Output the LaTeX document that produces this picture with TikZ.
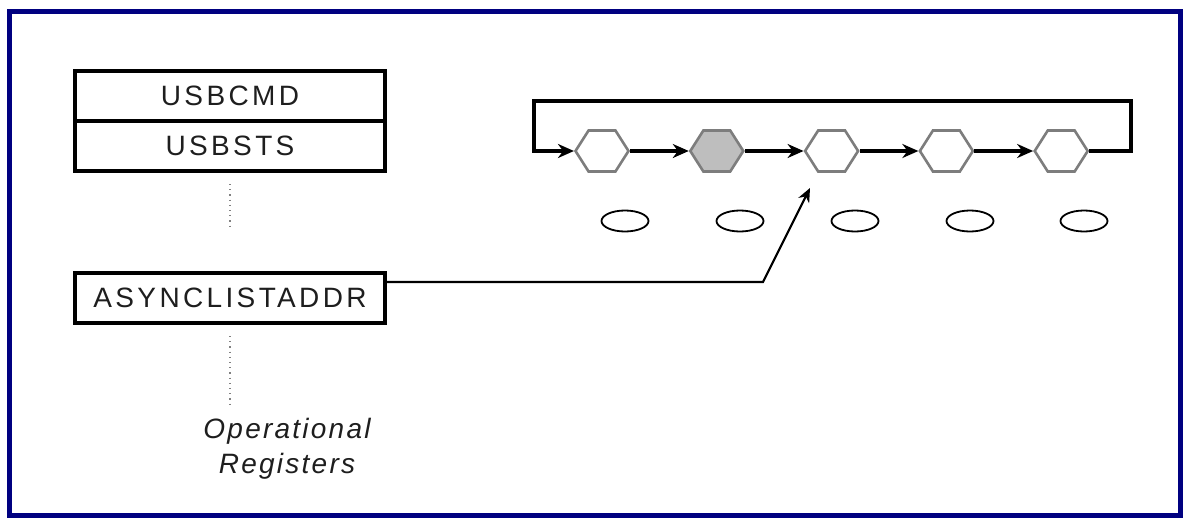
\documentclass[tikz,border=0pt]{standalone}
\usepackage{fontspec}
\setmainfont{Liberation Sans}
\newfontfamily\regfont[LetterSpace=12]{Liberation Sans}
\newfontfamily\labfont[LetterSpace=8]{Liberation Sans}
\usetikzlibrary{positioning,shapes.geometric,shapes.symbols,arrows.meta}
\definecolor{framenavy}{RGB}{0,0,128}
\definecolor{hexgray}{RGB}{190,190,190}
\definecolor{hexline}{RGB}{125,125,125}
\definecolor{textgray}{RGB}{30,30,30}

\begin{document}
\begin{tikzpicture}[x=0.5pt,y=-0.5pt,node distance=57.4pt,>={Stealth[length=8pt,width=7pt]},
    reg/.style={draw,line width=2pt,outer sep=0pt,minimum width=155pt,minimum height=25pt,inner sep=0pt,text=textgray,font=\regfont\fontsize{14pt}{16pt}\selectfont},
    hexa/.style={signal,signal to=east and west,signal pointer angle=115,draw=hexline,line width=1.3pt,fill=white,minimum width=26.5pt,minimum height=20.5pt,inner sep=0pt},
    slot/.style={ellipse,draw,line width=0.9pt,minimum width=23.5pt,minimum height=10.5pt,inner sep=0pt},
    link/.style={->,line width=2pt},
    regdots/.style={dotted,line width=0.6pt,black!50}]
            \useasboundingbox (0,0) rectangle (1184,520);
            \draw[line width=2.5pt,framenavy] (9,11) rectangle (1180,515);

            % operational registers
            \node[reg] (cmd) at (230,96) {USBCMD};
            \node[reg] (sts) [below=0pt of cmd] {USBSTS};
            \node[reg] (async) at (230,298) {ASYNCLISTADDR};
            \node[align=center,text=textgray,font=\labfont\itshape\fontsize{14pt}{17.5pt}\selectfont] (oplab) at (287,449) {Operational\\Registers};

            \draw[regdots,shorten <=6.5pt,shorten >=22.5pt] (sts) -- (async);
            \draw[regdots,shorten <=6.5pt,shorten >=3pt] (async.south) -- (async.south |- oplab.north);

            % asynchronous schedule
            \node[hexa] (h1) at (602,151) {};
            \node[hexa,fill=hexgray] (h2) [right of = h1] {};
            \node[hexa] (h3) [right of = h2] {};
            \node[hexa] (h4) [right of = h3] {};
            \node[hexa] (h5) [right of = h4] {};

            \node[slot] (e1) at (625,221) {};
            \node[slot] (e2) at (740,221) {};
            \node[slot] (e3) at (855,221) {};
            \node[slot] (e4) at (970,221) {};
            \node[slot] (e5) at (1084,221) {};

            \coordinate (loopR) at (1131,101);
            \coordinate (loopL) at (534,101);
            \coordinate (bend) at (763,282);
            \coordinate (aim) at (810,188);

            \path[link]
                (h1) edge (h2)
                (h2) edge (h3)
                (h3) edge (h4)
                (h4) edge (h5)
                ;
            \draw[link] (h5.east) -| (loopR) -- (loopL) |- (h1.west);
            \draw[->,line width=1.1pt,>={Stealth[length=7pt,width=6pt]}] ([yshift=8pt]async.east) -- (bend) -- (aim);
        \end{tikzpicture}
\end{document}
